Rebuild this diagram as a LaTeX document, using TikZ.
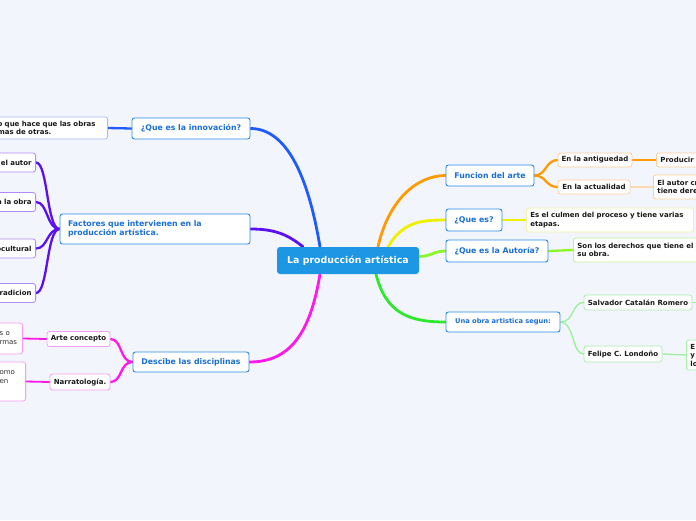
\documentclass[tikz,border=0pt]{standalone}
\usepackage{fontspec}
\setmainfont{DejaVu Sans}
\usetikzlibrary{backgrounds}
\definecolor{bgc}{HTML}{F3F5FD}
\definecolor{rootblue}{HTML}{1D96E3}
\definecolor{titleborder}{HTML}{2A8BE6}
\definecolor{titletext}{HTML}{1A6FD6}
\definecolor{brblue}{HTML}{1F5BFF}
\definecolor{innovleaf}{HTML}{A8B8F5}
\definecolor{brpurple}{HTML}{5A10F0}
\definecolor{purpleleaf}{HTML}{B08CF5}
\definecolor{brmag}{HTML}{FF18E8}
\definecolor{magleaf}{HTML}{F59CF0}
\definecolor{brorange}{HTML}{FF9A00}
\definecolor{orangeleaf}{HTML}{FFCC99}
\definecolor{paleorange}{HTML}{FCD9B0}
\definecolor{bryellow}{HTML}{EEF000}
\definecolor{yellowleaf}{HTML}{F2F2A8}
\definecolor{bryg}{HTML}{8CF526}
\definecolor{ygleaf}{HTML}{BDF29B}
\definecolor{brgreen}{HTML}{2EE82E}
\definecolor{lightgreen}{HTML}{9AF09A}
\definecolor{greenleaf}{HTML}{A6EDA6}
\tikzset{
  title/.style={draw=titleborder, fill=white, rounded corners=2.5, line width=0.9,
    text=titletext, font=\fontsize{7.8}{9.3}\selectfont\bfseries, inner sep=0, minimum height=21},
  leaf/.style={fill=white, rounded corners=2.5, line width=0.8,
    font=\fontsize{7}{8.5}\selectfont\bfseries, text=black!90, inner xsep=4, inner ysep=3},
  branch/.style={line width=2.8, line cap=round},
  subbranch/.style={line width=2.3, line cap=round},
  thinbranch/.style={line width=1.3, line cap=round}
}
\begin{document}
\begin{tikzpicture}[x=1pt,y=-1pt]
\useasboundingbox (0,0) rectangle (696,520);
\clip (0,0) rectangle (696,520);

% root
\node[fill=rootblue, rounded corners=3, minimum width=142, minimum height=27, inner sep=0,
  text=white, font=\fontsize{9.4}{11}\selectfont\bfseries] (root) at (348,260.5) {La producción artística};

% titles
\node[title, minimum width=118] (innov) at (191,128.5) {¿Que es la innovación?};
\node[title, minimum width=190, minimum height=30, text width=174, align=left] (fact) at (155,229) {Factores que intervienen en la\\producción artística.};
\node[title, minimum width=116, minimum height=20] (desc) at (191,362) {Descibe las disciplinas};
\node[title, minimum width=88] (func) at (490,175.5) {Funcion del arte};
\node[title, minimum width=56, minimum height=22] (quees) at (474,220) {¿Que es?};
\node[title, minimum width=102, minimum height=22] (autoria) at (497,251) {¿Que es la Autoría?};
\node[title, minimum width=114, minimum height=20, font=\fontsize{6.7}{8}\selectfont\bfseries] (obra) at (503,322) {Una obra artistica segun:};

% left leaves
\node[leaf, draw=innovleaf, anchor=east, text width=106, align=left, minimum height=22] (innovl) at (108,128) {o que hace que las obras\\mas de otras.};
\node[leaf, draw=purpleleaf, anchor=east, text width=44, align=right, minimum height=19] (p1) at (36,162.5) {el autor};
\node[leaf, draw=purpleleaf, anchor=east, text width=44, align=right, minimum height=19] (p2) at (36,202) {a la obra};
\node[leaf, draw=purpleleaf, anchor=east, text width=44, align=right, minimum height=19] (p3) at (36,248.5) {ocultural};
\node[leaf, draw=purpleleaf, anchor=east, text width=44, align=right, minimum height=19] (p4) at (36,293) {radicion};
\node[leaf, draw=magleaf, minimum width=63, minimum height=15, inner sep=0] (arte) at (78.5,339) {Arte concepto};
\node[leaf, draw=magleaf, minimum width=60, minimum height=16, inner sep=0] (narr) at (80,382) {Narratología.};
\node[leaf, draw=magleaf, anchor=east, text width=19, align=left, minimum height=31,
  font=\fontsize{7}{9}\selectfont, text=black!80] (arte2) at (23,338.5) {s o\\rmas};
\node[leaf, draw=magleaf, anchor=east, text width=22, align=left, minimum height=39,
  font=\fontsize{7}{9}\selectfont, text=black!80] (narr2) at (26,381.5) {omo\\en\\\mbox{}};

% right leaves
\node[leaf, draw=orangeleaf, minimum width=74, minimum height=14, inner sep=0] (ant) at (595,160) {En la antiguedad};
\node[leaf, draw=orangeleaf, minimum width=72, minimum height=14, inner sep=0] (act) at (594,187) {En la actualidad};
\node[leaf, draw=orangeleaf, anchor=west, text width=60, align=left, minimum height=14, inner ysep=0] (prod) at (656,160) {Producir};
\node[leaf, draw=orangeleaf, anchor=west, text width=60, align=left, minimum height=24] (autcr) at (653,187) {El autor crea\\tiene derechos};
\node[leaf, draw=yellowleaf, anchor=west, text width=159, align=left, minimum height=24] (culmen) at (526,220) {Es el culmen del proceso y tiene varias\\etapas.};
\node[leaf, draw=ygleaf, anchor=west, text width=160, align=left, minimum height=24] (autl) at (573,250) {Son los derechos que tiene el autor\\su obra.};
\node[leaf, draw=greenleaf, minimum width=108, minimum height=15, inner sep=0] (salv) at (638,302.5) {Salvador Catalán Romero};
\node[leaf, draw=greenleaf, minimum width=78, minimum height=16, inner sep=0] (fel) at (623,354) {Felipe C. Londoño};
\node[leaf, draw=greenleaf, anchor=west, text width=40, align=left, minimum height=30] (ey) at (686,355) {E\\y\\lo};
\coordinate (salvend) at (705,302.5);

\begin{scope}[on background layer]
\fill[bgc] (0,0) rectangle (696,520);
% main branches
\draw[branch, brblue] ([xshift=-28]root.north) .. controls +(-10,-60) and +(40,0) .. (innov.east);
\draw[branch, brpurple] ([xshift=-45]root.north) .. controls +(-15,-12) and +(25,0) .. (fact.east);
\draw[branch, brmag] ([xshift=-28]root.south) .. controls +(-10,60) and +(40,0) .. (desc.east);
\draw[branch, brorange] ([xshift=30]root.north) .. controls +(10,-45) and +(-30,0) .. (func.west);
\draw[branch, bryellow] ([xshift=40]root.north) .. controls +(15,-25) and +(-25,0) .. (quees.west);
\draw[branch, bryg] ([yshift=4]root.east) .. controls +(12,0) and +(-12,0) .. (autoria.west);
\draw[branch, brgreen] ([xshift=28]root.south) .. controls +(10,40) and +(-35,0) .. (obra.west);
% sub branches
\draw[subbranch, brblue] (innov.west) -- (innovl.east);
\foreach \p in {p1,p2,p3,p4}
  \draw[subbranch, brpurple] (fact.west) .. controls +(-13,0) and +(12,0) .. (\p.east);
\draw[subbranch, brmag] (desc.west) .. controls +(-13,0) and +(12,0) .. (arte.east);
\draw[subbranch, brmag] (desc.west) .. controls +(-13,0) and +(12,0) .. (narr.east);
\draw[thinbranch, brmag, line width=1.8] (arte.west) -- (arte2.east);
\draw[thinbranch, brmag, line width=1.8] (narr.west) -- (narr2.east);
\draw[subbranch, brorange] (func.east) .. controls +(12,0) and +(-12,0) .. (ant.west);
\draw[subbranch, brorange] (func.east) .. controls +(12,0) and +(-12,0) .. (act.west);
\draw[thinbranch, brorange, line width=1.6] (ant.east) -- (prod.west);
\draw[thinbranch, paleorange, line width=1.6] (act.east) -- (autcr.west);
\draw[subbranch, bryellow] (quees.east) -- (culmen.west);
\draw[subbranch, bryg] (autoria.east) -- (autl.west);
\draw[thinbranch, lightgreen] (obra.east) .. controls +(14,0) and +(-12,0) .. (salv.west);
\draw[thinbranch, lightgreen] (obra.east) .. controls +(14,0) and +(-12,0) .. (fel.west);
\draw[thinbranch, lightgreen] (fel.east) -- (ey.west);
\draw[thinbranch, lightgreen] (salv.east) -- (salvend);
\end{scope}
\end{tikzpicture}
\end{document}
